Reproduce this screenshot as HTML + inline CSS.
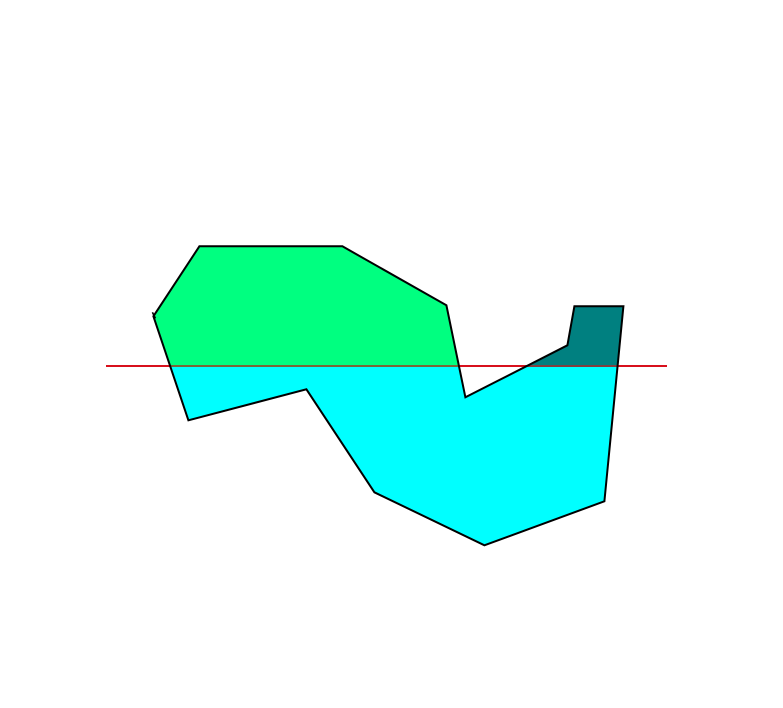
<!DOCTYPE html>
<html lang="en">
<head>
<meta charset="utf-8">
<title>Polygon split by baseline</title>
<style>
html,body{margin:0;padding:0;background:#fff;}
svg{display:block;}
</style>
</head>
<body>
<svg id="chart" width="783" height="708" viewBox="0 0 783 708" xmlns="http://www.w3.org/2000/svg"></svg>
<script>
// Outline vertices, in data units (y is the height above the red baseline)
const outlineX = [199, 342, 446, 465, 567, 574, 623, 604, 484, 374, 306, 188, 153];
const outlineY = [120, 120, 61, -31, 21, 60, 60, -135, -179, -126, -23, -54, 50];
// Small overshoot at the left-most vertex
const tickX = [152, 155];
const tickY = [54, 48];
// Extent of the baseline and its level
const baselineX = [106, 667];
const baselineValue = [0];
// Where the two lobes above the baseline are separated
const lobeSplitX = [500];

const svgNS = 'http://www.w3.org/2000/svg';
const svg = document.getElementById('chart');
const sx = v => v + 0.4;
const sy = v => 366.3 - v;

function make(tag, attrs) {
  const el = document.createElementNS(svgNS, tag);
  for (const k in attrs) el.setAttribute(k, attrs[k]);
  return el;
}

const pts = outlineX.map((x, i) => sx(x) + ',' + sy(outlineY[i])).join(' ');
const baseY = 366;
const splitX = sx(lobeSplitX[0]);

const defs = make('defs', {});
const clip = make('clipPath', { id: 'poly-clip' });
clip.appendChild(make('polygon', { points: pts }));
defs.appendChild(clip);
svg.appendChild(defs);

// Red baseline (outside the polygon)
const redLine = make('rect', { x: Math.round(sx(baselineX[0])), y: baseY - 1, width: baselineX[1] - baselineX[0], height: 2, fill: '#d8101c' });



const group = make('g', { 'clip-path': 'url(#poly-clip)' });



const below = make('rect', { x: 0, y: baseY, width: 783, height: 708 - baseY, fill: '#00ffff' });


group.appendChild(below);

const green = make('rect', { x: 0, y: 0, width: splitX, height: baseY, fill: '#00ff80' });


group.appendChild(green);

const teal = make('rect', { x: splitX, y: 0, width: 783 - splitX, height: baseY, fill: '#008080' });


group.appendChild(teal);

const brownLeft = make('rect', { x: 0, y: baseY - 1, width: splitX, height: 2, fill: '#786838' });


group.appendChild(brownLeft);

const brownRight = make('rect', { x: splitX, y: baseY - 1, width: 783 - splitX, height: 2, fill: '#804040' });


group.appendChild(brownRight);

svg.appendChild(redLine);
svg.appendChild(group);

const outline = make('polygon', { points: pts, fill: 'none', stroke: '#000', 'stroke-width': 2, 'stroke-linejoin': 'miter' });


svg.appendChild(outline);

const tick = make('line', { x1: sx(tickX[0]), y1: sy(tickY[0]), x2: sx(tickX[1]), y2: sy(tickY[1]), stroke: '#000', 'stroke-width': 1.6 });


svg.appendChild(tick);
</script>
</body>
</html>
